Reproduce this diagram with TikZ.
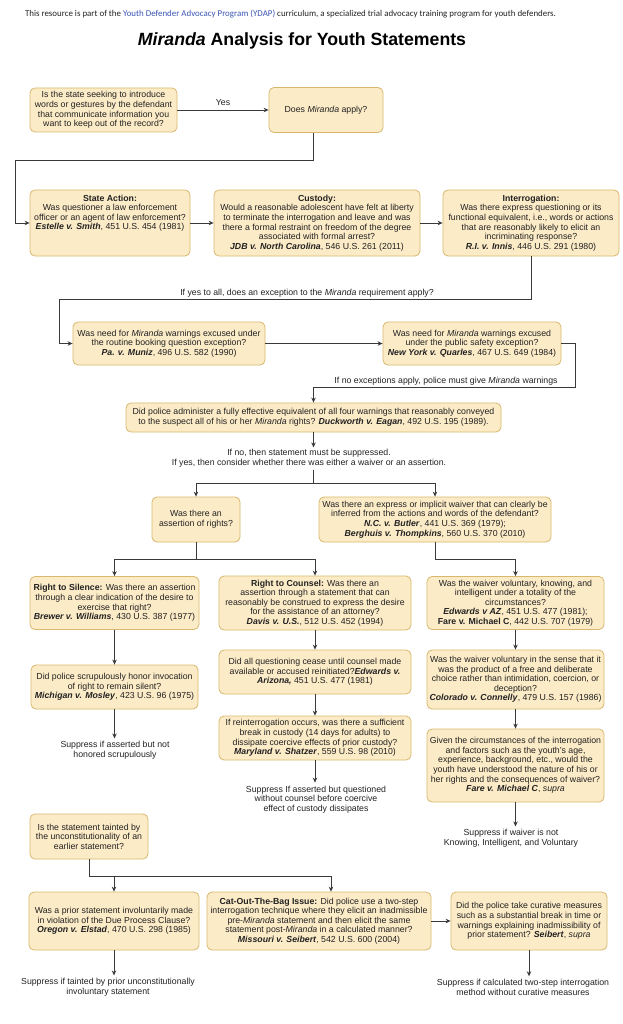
\documentclass[tikz,border=0pt]{standalone}
\usepackage{fontspec}
\setmainfont{Liberation Sans}
\newfontfamily\hdrfont{Carlito}
\usetikzlibrary{arrows.meta}
\definecolor{boxfill}{HTML}{FCEBC7}
\definecolor{boxline}{HTML}{D9B86E}
\definecolor{lineclr}{HTML}{3A3A3A}
\definecolor{txtclr}{HTML}{222222}
\definecolor{ydapblue}{HTML}{3B55B5}
\newcommand\bix[1]{\textbf{\textit{#1}}}
\newcommand\bodyfont{\fontsize{8.75}{9.6}\selectfont}
\begin{document}
\begin{tikzpicture}[x=1pt,y=-1pt,
  box/.style={draw=boxline, fill=boxfill, rounded corners=5pt, line width=0.8pt,
    align=center, inner sep=0pt, font=\bodyfont, text=txtclr},
  txt/.style={align=center, inner sep=0pt, font=\bodyfont, text=txtclr},
  note/.style={align=center, inner xsep=0pt, inner ysep=3pt, font=\bodyfont, text=txtclr},
  conn/.style={draw=lineclr, line width=0.9pt, -{Stealth[length=5pt,width=4.5pt]}},
  plain/.style={draw=lineclr, line width=0.9pt}]
\useasboundingbox (0,0) rectangle (622,1024);
\fill[white] (0,0) rectangle (622,1024);

% header and title
\node[inner sep=0pt, font=\hdrfont\fontsize{8.9}{10}\selectfont, text=txtclr] (hdr) at (290.5,14)
  {This resource is part of the {\color{ydapblue}Youth Defender Advocacy Program (YDAP)} curriculum, a specialized trial advocacy training program for youth defenders.};
\node[inner sep=0pt, font=\bfseries\fontsize{17.7}{20}\selectfont, text=black] (title) at (302,41)
  {\textit{Miranda} Analysis for Youth Statements};

% row 1
\node[box, minimum width=147pt, minimum height=44pt] (q1) at (103.5,110)
  {Is the state seeking to introduce\\words or gestures by the defendant\\that communicate information you\\want to keep out of the record?};
\node[box, minimum width=114pt, minimum height=45pt] (q2) at (326,110)
  {Does \textit{Miranda} apply?};
\draw[conn] (q1.east) -- (q2.west) node[midway, above=4pt, txt] (yes) {Yes};

% row 2
\node[box, minimum width=160pt, minimum height=66pt] (sa) at (110,223) {};
\node[txt, anchor=north] (sat) at (110,194.5)
  {\textbf{State Action:}\\Was questioner a law enforcement\\officer or an agent of law enforcement?\\\bix{Estelle v. Smith}, 451 U.S. 454 (1981)};
\node[box, minimum width=206pt, minimum height=66pt] (cust) at (317,223)
  {\textbf{Custody:}\\Would a reasonable adolescent have felt at liberty\\to terminate the interrogation and leave and was\\there a formal restraint on freedom of the degree\\associated with formal arrest?\\\bix{JDB v. North Carolina}, 546 U.S. 261 (2011)};
\node[box, minimum width=176pt, minimum height=66pt] (inter) at (531,223)
  {\textbf{Interrogation:}\\Was there express questioning or its\\functional equivalent, i.e., words or actions\\that are reasonably likely to elicit an\\incriminating response?\\\bix{R.I. v. Innis}, 446 U.S. 291 (1980)};
\coordinate (c1) at (15,160);
\draw[conn] ([xshift=-13pt]q2.south) |- (c1) |- (sa.west);
\draw[conn] (sa.east) -- (cust.west);
\draw[conn] (cust.east) -- (inter.west);

% row 3 exceptions
\node[box, minimum width=192pt, minimum height=43pt] (muniz) at (169,343.5)
  {Was need for \textit{Miranda} warnings excused under\\the routine booking question exception?\\\bix{Pa. v. Muniz}, 496 U.S. 582 (1990)};
\node[box, minimum width=178pt, minimum height=43pt] (quarles) at (472,343.5)
  {Was need for \textit{Miranda} warnings excused\\under the public safety exception?\\\bix{New York v. Quarles}, 467 U.S. 649 (1984)};
\coordinate (c2) at (59,299);
\draw[conn] (inter.south) |- (c2) |- (muniz.west);
\node[txt] (lab1) at (307,293.5) {If yes to all, does an exception to the \textit{Miranda} requirement apply?};
\draw[conn] (muniz.east) -- (quarles.west);

% duckworth
\node[box, minimum width=375pt, minimum height=29pt] (duck) at (313.5,417.5)
  {Did police administer a fully effective equivalent of all four warnings that reasonably conveyed\\to the suspect all of his or her \textit{Miranda} rights? \bix{Duckworth v. Eagan}, 492 U.S. 195 (1989).};
\coordinate (c3) at (575,387);
\draw[conn] (quarles.east) -| (c3) -| (duck.north);
\node[txt] (lab2) at (446,381.5) {If no exceptions apply, police must give \textit{Miranda} warnings};
\node[note, inner ysep=2pt] (n1) at (309,458.5)
  {If no, then statement must be suppressed.\\If yes, then consider whether there was either a waiver or an assertion.};
\draw[conn] (duck.south) -- (duck.south |- n1.north);
\coordinate (c4) at (313.5,483);
\draw[plain] (duck.south |- n1.south) -- (c4);

% assertion / waiver
\node[box, minimum width=88pt, minimum height=45pt] (assert) at (196,519.5)
  {Was there an\\assertion of rights?};
\node[box, minimum width=232pt, minimum height=45pt] (waiver) at (435,519.5)
  {Was there an express or implicit waiver that can clearly be\\inferred from the actions and words of the defendant?\\\bix{N.C. v. Butler}, 441 U.S. 369 (1979);\\\bix{Berghuis v. Thompkins}, 560 U.S. 370 (2010)};
\draw[conn] (c4) -| (assert.north);
\draw[conn] (c4) -| (waiver.north);

% row of three
\node[box, minimum width=169pt, minimum height=53pt] (silence) at (114.5,603)
  {\textbf{Right to Silence:} Was there an assertion\\through a clear indication of the desire to\\exercise that right?\\\bix{Brewer v. Williams}, 430 U.S. 387 (1977)};
\node[box, minimum width=192pt, minimum height=54pt] (counsel) at (315,603)
  {\textbf{Right to Counsel:} Was there an\\assertion through a statement that can\\reasonably be construed to express the desire\\for the assistance of an attorney?\\\bix{Davis v. U.S.}, 512 U.S. 452 (1994)};
\node[box, minimum width=177pt, minimum height=53pt] (vol) at (515.5,603)
  {Was the waiver voluntary, knowing, and\\intelligent under a totality of the\\circumstances?\\\bix{Edwards v AZ}, 451 U.S. 477 (1981);\\\textbf{Fare v. Michael C}, 442 U.S. 707 (1979)};
\coordinate (c5) at (196,559);
\coordinate (c6) at (435,559);
\draw[plain] (assert.south) -- (c5);
\draw[conn] (c5) -| (silence.north);
\draw[conn] (c5) -| (counsel.north);
\draw[plain] (waiver.south) -- (c6);
\draw[conn] (c6) -| (vol.north);

% left column
\node[box, minimum width=167pt, minimum height=44pt] (mosley) at (114.5,687)
  {Did police scrupulously honor invocation\\of right to remain silent?\\\bix{Michigan v. Mosley}, 423 U.S. 96 (1975)};
\draw[conn] (silence.south) -- (mosley.north);
\node[note] (n2) at (115,750.5) {Suppress if asserted but not\\honored scrupulously};
\draw[conn] (mosley.south) -- (mosley.south |- n2.north);

% middle column
\node[box, minimum width=192pt, minimum height=44pt] (edw) at (315,672)
  {Did all questioning cease until counsel made\\available or accused reinitiated?\bix{Edwards v.}\\\bix{Arizona,} 451 U.S. 477 (1981)};
\node[box, minimum width=192pt, minimum height=44pt] (shatzer) at (315,738)
  {If reinterrogation occurs, was there a sufficient\\break in custody (14 days for adults) to\\dissipate coercive effects of prior custody?\\\bix{Maryland v. Shatzer}, 559 U.S. 98 (2010)};
\draw[conn] (counsel.south) -- (edw.north);
\draw[conn] (edw.south) -- (shatzer.north);
\node[note] (n3) at (316,799.5) {Suppress If asserted but questioned\\without counsel before coercive\\effect of custody dissipates};
\draw[conn] (shatzer.south) -- (shatzer.south |- n3.north);

% right column
\node[box, minimum width=177pt, minimum height=59pt] (connelly) at (515.5,679.5)
  {Was the waiver voluntary in the sense that it\\was the product of a free and deliberate\\choice rather than intimidation, coercion, or\\deception?\\\bix{Colorado v. Connelly}, 479 U.S. 157 (1986)};
\node[box, minimum width=177pt, minimum height=73pt] (fare) at (515.5,765.5)
  {Given the circumstances of the interrogation\\and factors such as the youth's age,\\experience, background, etc., would the\\youth have understood the nature of his or\\her rights and the consequences of waiver?\\\bix{Fare v. Michael C}, \textit{supra}};
\draw[conn] (vol.south) -- (connelly.north);
\draw[conn] (connelly.south) -- (fare.north);
\node[note] (n4) at (511,838.5) {Suppress if waiver is not\\Knowing, Intelligent, and Voluntary};
\draw[conn] (fare.south) -- (fare.south |- n4.north);

% tainted
\node[box, minimum width=118pt, minimum height=45pt] (taint) at (89,836.5)
  {Is the statement tainted by\\the unconstitutionality of an\\earlier statement?};
\node[box, minimum width=170pt, minimum height=58pt] (elstad) at (114,921)
  {Was a prior statement involuntarily made\\in violation of the Due Process Clause?\\\bix{Oregon v. Elstad}, 470 U.S. 298 (1985)};
\node[box, minimum width=224pt, minimum height=58pt] (seibert) at (319,921)
  {\textbf{Cat-Out-The-Bag Issue:} Did police use a two-step\\interrogation technique where they elicit an inadmissible\\pre-\textit{Miranda} statement and then elicit the same\\statement post-\textit{Miranda} in a calculated manner?\\\bix{Missouri v. Seibert}, 542 U.S. 600 (2004)};
\node[box, minimum width=156pt, minimum height=58pt] (curative) at (529,921)
  {Did the police take curative measures\\such as a substantial break in time or\\warnings explaining inadmissibility of\\prior statement? \bix{Seibert}, \textit{supra}};
\coordinate (c7) at (89,876);
\draw[plain] (taint.south) -- (c7);
\draw[conn] (c7) -| (elstad.north);
\draw[conn] (c7) -| ([xshift=12pt]seibert.north);
\draw[conn] (seibert.east) -- (curative.west);
\node[note] (n5) at (108,987.5) {Suppress if tainted by prior unconstitutionally\\involuntary statement};
\node[note] (n6) at (523,987.5) {Suppress if calculated two-step interrogation\\method without curative measures};
\draw[conn] (elstad.south) -- (elstad.south |- n5.north);
\draw[conn] (curative.south) -- (curative.south |- n6.north);
\end{tikzpicture}
\end{document}
